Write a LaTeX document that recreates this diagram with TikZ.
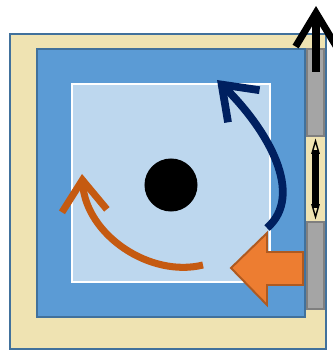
\documentclass[tikz,border=0pt]{standalone}
\usetikzlibrary{arrows.meta}

\definecolor{frameFill}{RGB}{239,227,178}
\definecolor{edgeBlue}{RGB}{65,113,156}
\definecolor{panelBlue}{RGB}{91,155,213}
\definecolor{paleBlue}{RGB}{189,215,238}
\definecolor{navy}{RGB}{0,32,96}
\definecolor{rustOrange}{RGB}{197,90,17}
\definecolor{blockOrange}{RGB}{237,125,49}
\definecolor{blockEdge}{RGB}{174,90,33}
\definecolor{railGray}{RGB}{165,165,165}
\definecolor{railEdge}{RGB}{127,127,127}

\tikzset{
  frame/.style={draw=edgeBlue, fill=frameFill, line width=1.4pt},
  panel/.style={draw=edgeBlue, fill=panelBlue, line width=1.4pt},
  window/.style={draw=white, fill=paleBlue, line width=1.4pt},
  rail/.style={draw=railEdge, fill=railGray, line width=1.4pt, rectangle,
    minimum width=0.425cm, minimum height=2.175cm, inner sep=0pt},
  hub/.style={circle, fill=black, minimum size=1.325cm, inner sep=0pt},
  spin/.style={line width=5.5pt, line cap=butt,
    -{Straight Barb[length=22pt, width=32pt, line join=miter]}},
}

\begin{document}
\begin{tikzpicture}[x=0.025cm, y=-0.025cm]
  \useasboundingbox (0,0) rectangle (332,352);

  % Frame and panels
  \draw[frame] (10,34) rectangle (326,349);
  \draw[panel] (37,49) rectangle (305,317);
  \draw[window] (72,84) rectangle (270,282);

  % Centre
  \node[hub] (hub) at (171,185) {};

  % Rails on the right
  \node[rail] (railTop) at (315.5,92.5) {};
  \node[rail] (railBot) at (315.5,265.5) {};

  % Gap between the rails
  \draw[line width=4.5pt, shorten <=9pt, shorten >=9pt] (railTop.south) -- (railBot.north);
  \draw[line width=1pt, {Triangle[open, length=11pt, width=6pt]}-{Triangle[open, length=11pt, width=6pt]}]
    ([yshift=-1pt]railTop.south) -- ([yshift=1pt]railBot.north);

  % Lift arrow
  \coordinate (liftFoot) at (316,72);
  \coordinate (liftTip) at (316,6);
  \draw[line width=5pt, -{Straight Barb[length=24pt, width=29pt, line join=miter]}] (liftFoot) -- (liftTip);

  % Rotation
  \coordinate (navyStart) at (267,228);
  \coordinate (navyEnd) at (217,80);
  \draw[spin, navy] (navyStart) .. controls (305,195) and (268,130) .. (navyEnd);

  \coordinate (rustStart) at (203,265);
  \coordinate (rustEnd) at (82,174);
  \draw[spin, rustOrange, line width=5pt] (rustStart) .. controls (150,278) and (86,235) .. (rustEnd);

  % Push
  \draw[fill=blockOrange, draw=blockEdge, line width=1.4pt, line join=miter]
    (231,268) -- (267,233) -- (267,252) -- (303,252) -- (303,285)
    -- (267,285) -- (267,305) -- cycle;
\end{tikzpicture}
\end{document}
